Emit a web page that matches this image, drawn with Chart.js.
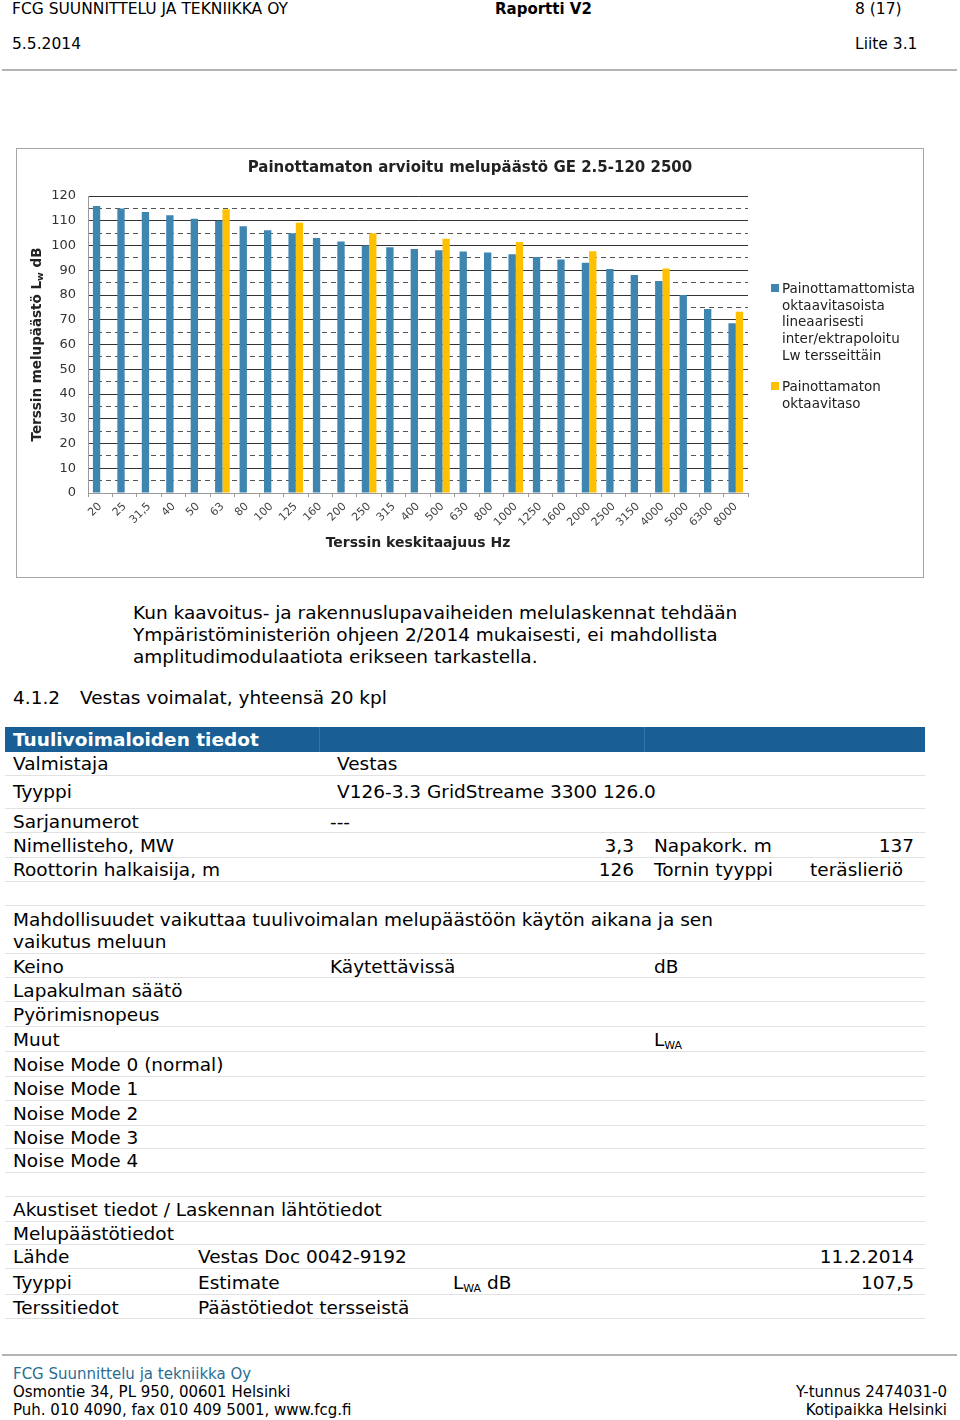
<!DOCTYPE html>
<html lang="fi">
<head>
<meta charset="UTF-8">
<title>Raportti V2 | Liite 3.1</title>
<script src="https://cdn.jsdelivr.net/npm/chart.js@4/dist/chart.umd.min.js"></script>
<style>
    body { margin: 0; width: 960px; height: 1420px; position: relative; background: #fff; color: #000;
           font-family: "DejaVu Sans", Verdana, sans-serif; }
    .a { position: absolute; white-space: nowrap; }
    .hdr { font-size: 15.5px; line-height: 18px; }
    .viiva { position: absolute; left: 2px; width: 955px; height: 2px; background: #b4b4b4; }
    .teksti { font-size: 18.5px; line-height: 22px; }
    .rivi { position: absolute; left: 5px; width: 920px; border-bottom: 1px solid #e2e2e2; font-size: 18.5px; }
    .rivi span { position: absolute; white-space: nowrap; top: 0; }
    .otsikkorivi { background: #195f95; color: #fff; font-weight: bold; border-bottom: none; }
    sub { font-size: 11px; vertical-align: -3px; line-height: 0; }
    #kaaviolaatikko { position: absolute; left: 16px; top: 148px; width: 906px; height: 428px; border: 1px solid #a6a6a6; }
    .selite { position: absolute; font-size: 13.5px; line-height: 16.7px; color: #222; }
    .ruutu { position: absolute; width: 8px; height: 8px; }
    .ala { font-size: 15px; line-height: 18px; }
</style>
</head>
<body>

<!-- ylätunniste -->
<div class="a hdr" style="left:12px; top:0px;">FCG SUUNNITTELU JA TEKNIIKKA OY</div>
<div class="a hdr" style="left:495px; top:0px; font-weight:bold; font-size:15px;">Raportti V2</div>
<div class="a hdr" style="left:855px; top:0px;">8 (17)</div>
<div class="a hdr" style="left:12px; top:35px;">5.5.2014</div>
<div class="a hdr" style="left:855px; top:35px;">Liite 3.1</div>
<div class="viiva" style="top:69px;"></div>

<!-- kaavio -->
<div id="kaaviolaatikko">
    <canvas id="kaavio" width="906" height="428"></canvas>
</div>
<div class="ruutu" style="left:771px; top:284px; background:#3e85b0;"></div>
<div class="selite" style="left:782px; top:280px;">Painottamattomista<br>oktaavitasoista<br>lineaarisesti<br>inter/ektrapoloitu<br>Lw tersseittäin</div>
<div class="ruutu" style="left:771px; top:382px; background:#ffc000;"></div>
<div class="selite" style="left:782px; top:378px;">Painottamaton<br>oktaavitaso</div>

<!-- teksti -->
<div class="a teksti" style="left:133px; top:602px;">Kun kaavoitus- ja rakennuslupavaiheiden melulaskennat tehdään<br>Ympäristöministeriön ohjeen 2/2014 mukaisesti, ei mahdollista<br>amplitudimodulaatiota erikseen tarkastella.</div>
<div class="a teksti" style="left:13px; top:687px;">4.1.2</div>
<div class="a teksti" style="left:80px; top:687px;">Vestas voimalat, yhteensä 20 kpl</div>

<!-- taulukko -->
<div class="rivi otsikkorivi" style="top:727px; height:25px; line-height:25px;">
    <span style="left:8px;">Tuulivoimaloiden tiedot</span>
    <span style="left:314px; width:1px; height:25px; background:rgba(255,255,255,0.12);"></span>
    <span style="left:639px; width:1px; height:25px; background:rgba(255,255,255,0.12);"></span>
</div>
<div class="rivi" style="top:752px; height:23px; line-height:23px;"><span style="left:8px;">Valmistaja</span><span style="left:332px;">Vestas</span></div>
<div class="rivi" style="top:775px; height:33px; line-height:34px;"><span style="left:8px;">Tyyppi</span><span style="left:332px;">V126-3.3 GridStreame 3300 126.0</span></div>
<div class="rivi" style="top:809px; height:23px; line-height:25px;"><span style="left:8px;">Sarjanumerot</span><span style="left:325px;">---</span></div>
<div class="rivi" style="top:833px; height:24px; line-height:25px;"><span style="left:8px;">Nimellisteho, MW</span><span style="right:291px;">3,3</span><span style="left:649px;">Napakork. m</span><span style="right:11px;">137</span></div>
<div class="rivi" style="top:858px; height:23px; line-height:24px;"><span style="left:8px;">Roottorin halkaisija, m</span><span style="right:291px;">126</span><span style="left:649px;">Tornin tyyppi</span><span style="right:22px;">teräslieriö</span></div>
<div class="rivi" style="top:882px; height:23px;"></div>
<div class="rivi" style="top:906px; height:47px; line-height:22px;"><span style="left:8px; top:3px;">Mahdollisuudet vaikuttaa tuulivoimalan melupäästöön käytön aikana ja sen<br>vaikutus meluun</span></div>
<div class="rivi" style="top:954px; height:23px; line-height:25px;"><span style="left:8px;">Keino</span><span style="left:325px;">Käytettävissä</span><span style="left:649px;">dB</span></div>
<div class="rivi" style="top:978px; height:23px; line-height:25px;"><span style="left:8px;">Lapakulman säätö</span></div>
<div class="rivi" style="top:1002px; height:24px; line-height:25px;"><span style="left:8px;">Pyörimisnopeus</span></div>
<div class="rivi" style="top:1027px; height:24px; line-height:25px;"><span style="left:8px;">Muut</span><span style="left:649px;">L<sub>WA</sub></span></div>
<div class="rivi" style="top:1052px; height:24px; line-height:25px;"><span style="left:8px;">Noise Mode 0 (normal)</span></div>
<div class="rivi" style="top:1077px; height:23px; line-height:24px;"><span style="left:8px;">Noise Mode 1</span></div>
<div class="rivi" style="top:1101px; height:24px; line-height:25px;"><span style="left:8px;">Noise Mode 2</span></div>
<div class="rivi" style="top:1126px; height:22px; line-height:23px;"><span style="left:8px;">Noise Mode 3</span></div>
<div class="rivi" style="top:1149px; height:23px; line-height:24px;"><span style="left:8px;">Noise Mode 4</span></div>
<div class="rivi" style="top:1173px; height:23px;"></div>
<div class="rivi" style="top:1197px; height:24px; line-height:25px;"><span style="left:8px;">Akustiset tiedot / Laskennan lähtötiedot</span></div>
<div class="rivi" style="top:1222px; height:22px; line-height:23px;"><span style="left:8px;">Melupäästötiedot</span></div>
<div class="rivi" style="top:1245px; height:23px; line-height:24px;"><span style="left:8px;">Lähde</span><span style="left:193px;">Vestas Doc 0042-9192</span><span style="right:11px;">11.2.2014</span></div>
<div class="rivi" style="top:1269px; height:25px; line-height:27px;"><span style="left:8px;">Tyyppi</span><span style="left:193px;">Estimate</span><span style="left:448px;">L<sub>WA</sub> dB</span><span style="right:11px;">107,5</span></div>
<div class="rivi" style="top:1295px; height:23px; line-height:25px;"><span style="left:8px;">Terssitiedot</span><span style="left:193px;">Päästötiedot tersseistä</span></div>

<!-- alatunniste -->
<div class="viiva" style="top:1354px;"></div>
<div class="a ala" style="left:13px; top:1365px; color:#2a6d93;">FCG Suunnittelu ja tekniikka Oy</div>
<div class="a ala" style="left:13px; top:1383px;">Osmontie 34, PL 950, 00601 Helsinki<br>Puh. 010 4090, fax 010 409 5001, www.fcg.fi</div>
<div class="a ala" style="right:13px; top:1383px; text-align:right;">Y-tunnus 2474031-0<br>Kotipaikka Helsinki</div>

<script>
    // terssikaistat (Hz)
    const taajuudet = ['20', '25', '31,5', '40', '50', '63', '80', '100', '125', '160', '200', '250', '315', '400',
        '500', '630', '800', '1000', '1250', '1600', '2000', '2500', '3150', '4000', '5000', '6300', '8000'];

    // Lw tersseittäin, dB
    const tersseittain = [116, 115, 113.5, 112.2, 110.8, 110, 107.8, 106.2, 104.9, 103, 101.6, 100, 99.3, 98.6,
        98.1, 97.6, 97.2, 96.5, 95.4, 94.3, 93, 90.5, 88.1, 85.7, 80, 74.3, 68.6];

    // oktaavitasot vain oktaavikaistoilla
    const oktaavit = [null, null, null, null, null, 114.6, null, null, 109.2, null, null, 105, null, null,
        102.7, null, null, 101.4, null, null, 97.7, null, null, 90.7, null, null, 73.2];

    const yMin = 0;
    const yMax = 120;
    const yAskel = 10;
    const katkoViivat = [5, 15, 25, 35, 45, 55, 65, 75, 85, 95, 105, 115];

    const otsikko = 'Painottamaton arvioitu melupäästö GE 2.5-120 2500';
    const xOtsikko = 'Terssin keskitaajuus Hz';
    const yOtsikko = ['Terssin melupäästö L', 'w', ' dB'];

    Chart.defaults.font.family = '"DejaVu Sans", Verdana, sans-serif';

    // y-akselin otsikko alaindeksillä
    const yOtsikkoPlugin = {
        id: 'yOtsikko',
        afterDraw(chart) {
            const ctx = chart.ctx;
            const ca = chart.chartArea;
            const iso = 'bold 13.5px "DejaVu Sans", sans-serif';
            const pieni = 'bold 9.5px "DejaVu Sans", sans-serif';
            ctx.save();
            ctx.font = iso;
            const w1 = ctx.measureText(yOtsikko[0]).width;
            const w3 = ctx.measureText(yOtsikko[2]).width;
            ctx.font = pieni;
            const w2 = ctx.measureText(yOtsikko[1]).width;
            ctx.translate(20, (ca.top + ca.bottom) / 2);
            ctx.rotate(-Math.PI / 2);
            ctx.fillStyle = '#222';
            ctx.textBaseline = 'middle';
            let x = -(w1 + w2 + w3) / 2;
            ctx.font = iso;
            ctx.fillText(yOtsikko[0], x, 0);
            x += w1;
            ctx.font = pieni;
            ctx.fillText(yOtsikko[1], x, 4);
            x += w2;
            ctx.font = iso;
            ctx.fillText(yOtsikko[2], x, 0);
            ctx.restore();
        }
    };

    new Chart(document.getElementById('kaavio'), {
        type: 'bar',
        data: {
            labels: taajuudet,
            datasets: [
                {
                    label: 'Painottamattomista oktaavitasoista lineaarisesti inter/ektrapoloitu Lw tersseittäin',
                    data: tersseittain,
                    backgroundColor: '#3e85b0',
                    categoryPercentage: 0.6,
                    barPercentage: 1.0
                },
                {
                    label: 'Painottamaton oktaavitaso',
                    data: oktaavit,
                    backgroundColor: '#ffc000',
                    categoryPercentage: 0.6,
                    barPercentage: 1.0
                }
            ]
        },
        options: {
            responsive: false,
            animation: false,
            layout: { padding: 0 },
            plugins: {
                legend: { display: false },
                tooltip: { enabled: false },
                title: {
                    display: true,
                    text: otsikko,
                    color: '#222',
                    font: { size: 15, weight: 'bold' },
                    padding: { top: 10, bottom: 19 }
                }
            },
            scales: {
                x: {
                    grid: { drawOnChartArea: false, tickLength: 4, color: '#9a9a9a' },
                    border: { color: '#9a9a9a' },
                    ticks: { minRotation: 45, maxRotation: 45, autoSkip: false, color: '#444', font: { size: 11 } },
                    title: {
                        display: true,
                        text: xOtsikko,
                        color: '#222',
                        font: { size: 14, weight: 'bold' },
                        padding: { top: 4, bottom: 25 }
                    },
                    afterFit(s) { s.height = 84; }
                },
                y: {
                    min: yMin,
                    max: yMax,
                    ticks: { stepSize: yAskel, padding: 12, color: '#333', font: { size: 13 } },
                    grid: {
                        drawTicks: false,
                        color: c => c.tick && c.tick.value === 0 ? 'rgba(0,0,0,0)' : '#333'
                    },
                    border: { color: '#9a9a9a' },
                    afterFit(s) { s.width = 71; }
                },
                yKatko: {
                    position: 'right',
                    min: yMin,
                    max: yMax,
                    ticks: { display: false },
                    grid: { drawTicks: false, color: '#555' },
                    border: { display: false, dash: [5, 4] },
                    afterBuildTicks(s) { s.ticks = katkoViivat.map(v => ({ value: v })); },
                    afterFit(s) { s.width = 175; }
                }
            }
        },
        plugins: [yOtsikkoPlugin]
    });
</script>
</body>
</html>
